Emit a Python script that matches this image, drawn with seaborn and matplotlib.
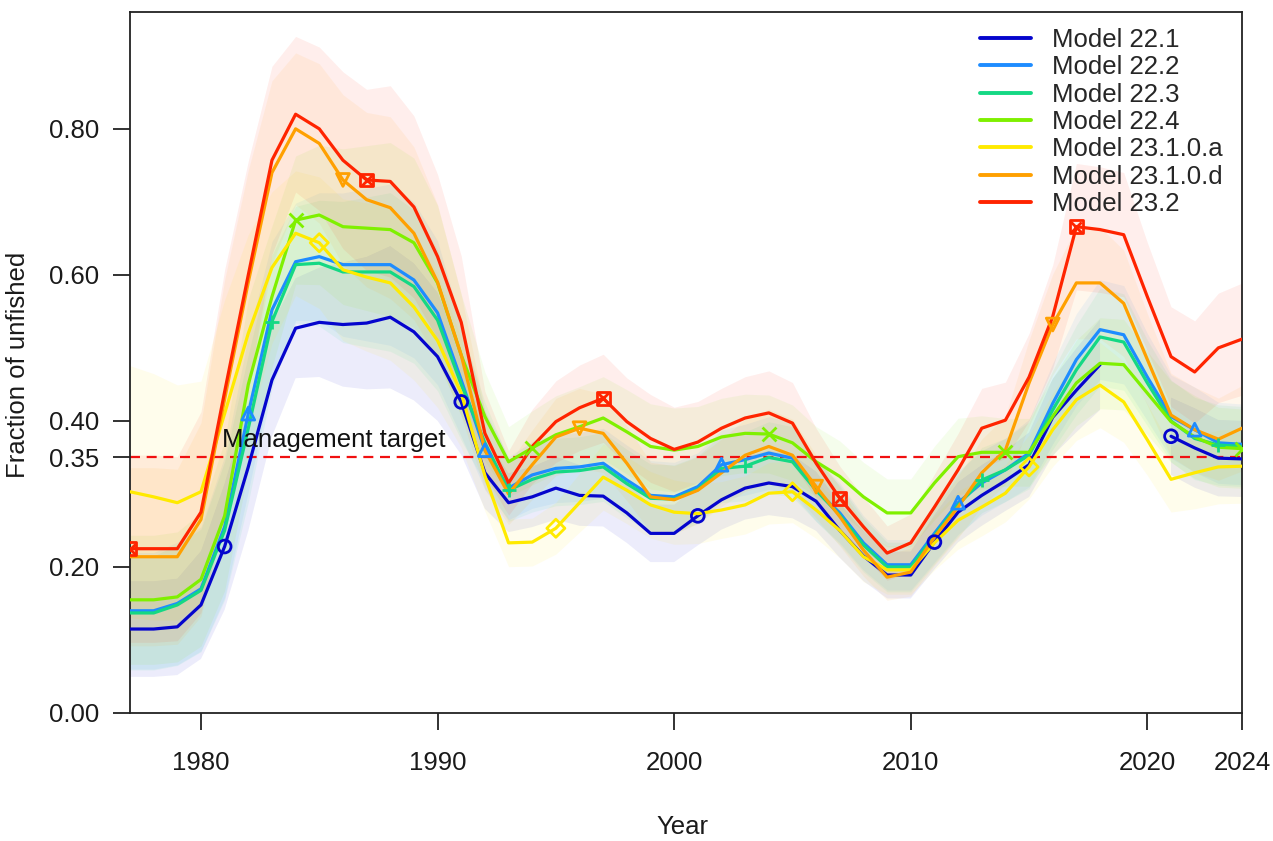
import numpy as np
import pandas as pd
import matplotlib
matplotlib.use("Agg")
import matplotlib.pyplot as plt
from matplotlib.lines import Line2D
import seaborn as sns

nan = np.nan
years = list(range(1977, 2025))

m22_1 = [0.115, 0.115, 0.118, 0.148, 0.228, 0.337, 0.456, 0.527, 0.535, 0.532,
         0.534, 0.542, 0.522, 0.488, 0.426, 0.329, 0.288, 0.296, 0.308, 0.298,
         0.297, 0.274, 0.246, 0.246, 0.270, 0.292, 0.308, 0.315, 0.310, 0.290,
         0.250, 0.215, 0.189, 0.189, 0.234, 0.275, 0.298, 0.318, 0.340, 0.405,
         0.442, 0.477, nan, nan, 0.379, 0.363, 0.349, 0.348]
m22_2 = [0.140, 0.140, 0.150, 0.170, 0.255, 0.410, 0.552, 0.618, 0.625, 0.614,
         0.614, 0.614, 0.593, 0.548, 0.456, 0.360, 0.308, 0.326, 0.335, 0.337,
         0.342, 0.319, 0.298, 0.296, 0.310, 0.340, 0.347, 0.356, 0.349, 0.305,
         0.274, 0.233, 0.203, 0.203, 0.246, 0.288, 0.315, 0.333, 0.356, 0.424,
         0.484, 0.525, 0.518, 0.460, 0.406, 0.388, 0.370, 0.368]
m22_3 = [0.137, 0.137, 0.148, 0.168, 0.250, 0.390, 0.536, 0.614, 0.616, 0.604,
         0.604, 0.604, 0.584, 0.538, 0.450, 0.370, 0.305, 0.320, 0.330, 0.332,
         0.337, 0.314, 0.294, 0.293, 0.306, 0.335, 0.338, 0.350, 0.344, 0.305,
         0.271, 0.230, 0.200, 0.200, 0.243, 0.285, 0.319, 0.333, 0.353, 0.415,
         0.470, 0.515, 0.508, 0.452, 0.400, 0.376, 0.367, 0.365]
m22_4 = [0.155, 0.155, 0.159, 0.183, 0.270, 0.450, 0.570, 0.675, 0.682, 0.666,
         0.664, 0.662, 0.644, 0.589, 0.490, 0.406, 0.344, 0.363, 0.381, 0.392,
         0.404, 0.385, 0.365, 0.360, 0.365, 0.378, 0.383, 0.382, 0.370, 0.344,
         0.324, 0.296, 0.274, 0.274, 0.315, 0.351, 0.357, 0.357, 0.357, 0.406,
         0.452, 0.479, 0.477, 0.438, 0.399, 0.378, 0.364, 0.362]
m23_1_0_a = [0.303, 0.296, 0.288, 0.303, 0.410, 0.520, 0.610, 0.657, 0.644, 0.607,
             0.597, 0.589, 0.556, 0.510, 0.438, 0.325, 0.233, 0.234, 0.253, 0.288,
             0.323, 0.305, 0.285, 0.275, 0.273, 0.278, 0.285, 0.301, 0.303, 0.278,
             0.250, 0.214, 0.196, 0.196, 0.233, 0.264, 0.282, 0.301, 0.337, 0.388,
             0.429, 0.449, 0.426, 0.374, 0.320, 0.329, 0.337, 0.338]
m23_1_0_d = [0.214, 0.214, 0.214, 0.265, 0.430, 0.590, 0.740, 0.800, 0.780, 0.730,
             0.703, 0.692, 0.657, 0.590, 0.490, 0.360, 0.300, 0.340, 0.378, 0.390,
             0.383, 0.342, 0.296, 0.292, 0.305, 0.329, 0.353, 0.365, 0.353, 0.310,
             0.269, 0.223, 0.186, 0.193, 0.241, 0.282, 0.329, 0.360, 0.452, 0.532,
             0.589, 0.589, 0.561, 0.484, 0.408, 0.388, 0.375, 0.390]
m23_2 = [0.225, 0.225, 0.225, 0.275, 0.440, 0.600, 0.757, 0.820, 0.800, 0.757,
         0.730, 0.728, 0.693, 0.625, 0.535, 0.383, 0.315, 0.365, 0.399, 0.418,
         0.431, 0.399, 0.376, 0.361, 0.371, 0.390, 0.404, 0.411, 0.397, 0.342,
         0.294, 0.255, 0.219, 0.233, 0.282, 0.333, 0.390, 0.401, 0.460, 0.543,
         0.666, 0.662, 0.655, 0.570, 0.488, 0.467, 0.500, 0.512]

# relative half-width of the interval around each estimate, by year
band_rel = [0.57, 0.57, 0.56, 0.50, 0.38, 0.26, 0.17, 0.13, 0.14, 0.16,
            0.17, 0.18, 0.18, 0.18, 0.17, 0.15, 0.14, 0.14, 0.14, 0.14,
            0.14, 0.15, 0.16, 0.16, 0.15, 0.14, 0.14, 0.14, 0.14, 0.14,
            0.15, 0.16, 0.17, 0.17, 0.16, 0.15, 0.14, 0.13, 0.13, 0.13,
            0.13, 0.13, 0.13, 0.13, 0.14, 0.15, 0.15, 0.15]

labels = ["Model 22.1", "Model 22.2", "Model 22.3", "Model 22.4",
          "Model 23.1.0.a", "Model 23.1.0.d", "Model 23.2"]
series = [m22_1, m22_2, m22_3, m22_4, m23_1_0_a, m23_1_0_d, m23_2]
colors = ["#0505CD", "#1E8CFF", "#14D884", "#7FF000", "#FFEA00", "#FFA000", "#FF2400"]
markers = ["o", "^", "+", "x", "D", "v", "s"]
marker_start = [1981, 1982, 1983, 1984, 1985, 1986, 1977]
target = 0.35

sns.set_theme(style="white")
plt.rcParams["font.family"] = ["Liberation Sans", "DejaVu Sans"]

fig = plt.figure(figsize=(12.73, 8.41), dpi=100)
ax = fig.add_axes([130 / 1273, 1 - 713 / 841, 1112 / 1273, 701 / 841])

yrs = np.array(years)
rel = np.array(band_rel)

# intervals first
for vals, col in zip(series, colors):
    v = np.array(vals, dtype=float)
    ax.fill_between(yrs, v * (1 - rel), v * (1 + rel), color=col, alpha=0.075, lw=0, zorder=1)

ax.axhline(target, color="#F01010", ls=(0, (4.5, 3)), lw=1.6, zorder=2)

for vals, col, mk, m0 in zip(series, colors, markers, marker_start):
    df = pd.DataFrame({"year": yrs, "value": np.array(vals, dtype=float)})
    df["seg"] = df["value"].isna().cumsum()
    df = df.dropna()
    sns.lineplot(data=df, x="year", y="value", units="seg", estimator=None,
                 color=col, lw=2.3, ax=ax, legend=False, zorder=3)
    pts = df[(df["year"] - m0) % 10 == 0]
    if mk in ("+", "x"):
        sns.scatterplot(data=pts, x="year", y="value", marker=mk, color=col,
                        s=100, linewidth=2, ax=ax, legend=False, zorder=4)
    else:
        sns.scatterplot(data=pts, x="year", y="value", marker=mk, facecolor="none",
                        edgecolor=col, s=85, linewidth=2, ax=ax, legend=False, zorder=4)
        if mk == "s":
            sns.scatterplot(data=pts, x="year", y="value", marker="x", color=col,
                            s=55, linewidth=2, ax=ax, legend=False, zorder=4)

ax.text(1980.9, 0.357, "Management target", fontsize=18.5, ha="left", va="bottom", color="#111111")

ax.set_xlim(1977, 2024)
ax.set_ylim(0, 0.96)
ax.set_xticks([1980, 1990, 2000, 2010, 2020, 2024])
ax.set_yticks([0.0, 0.2, target, 0.4, 0.6, 0.8])
ax.set_yticklabels(["0.00", "0.20", "0.35", "0.40", "0.60", "0.80"])
ax.tick_params(axis="both", direction="out", length=12, width=1.3, labelsize=18.5,
               color="#222222", labelcolor="#1a1a1a", bottom=True, left=True)
ax.tick_params(axis="x", pad=15)
ax.tick_params(axis="y", pad=10)
for sp in ax.spines.values():
    sp.set_visible(True)
    sp.set_color("#222222")
    sp.set_linewidth(1.3)

ax.set_xlabel("Year", fontsize=18.5, color="#1a1a1a")
ax.set_ylabel("Fraction of unfished", fontsize=18.5, color="#1a1a1a")
ax.xaxis.set_label_coords(0.497, -0.145)
ax.yaxis.set_label_coords(-0.09, 0.496)

handles = [Line2D([0], [0], color=c, lw=2.8) for c in colors]
ax.legend(handles, labels, loc="upper left", bbox_to_anchor=(0.764, 0.977),
          frameon=False, fontsize=18.5, handlelength=2.0, handletextpad=0.8,
          labelspacing=0.13, borderaxespad=0, borderpad=0)

fig.savefig("out.png", dpi=100)
